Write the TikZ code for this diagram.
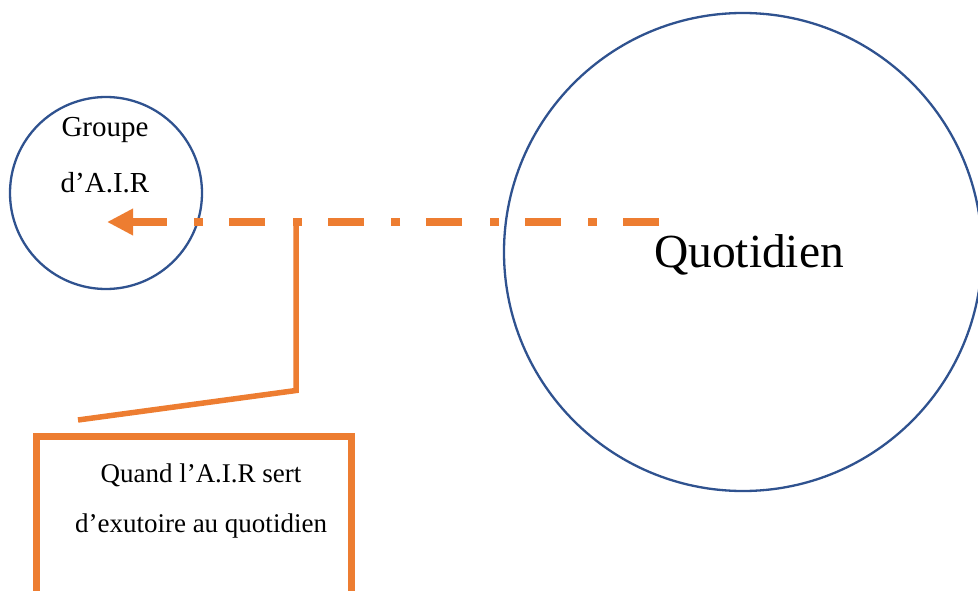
\documentclass[tikz,border=0pt]{standalone}
\usepackage{fontspec}
\setmainfont{Liberation Serif}
\usetikzlibrary{arrows.meta}
\definecolor{ringblue}{HTML}{2F528F}
\definecolor{accentorange}{HTML}{ED7D31}
\tikzset{
  ring/.style={circle, draw=ringblue, line width=2.3pt, inner sep=0pt},
  label29/.style={inner sep=0pt, anchor=base, font=\fontsize{29}{34}\selectfont},
  label27/.style={inner sep=0pt, anchor=base, font=\fontsize{27}{32}\selectfont},
  bigtext/.style={inner sep=0pt, anchor=base, font=\fontsize{47.5}{56}\selectfont},
  flowarrow/.style={draw=accentorange, line width=8pt, dash pattern=on 36pt off 26pt on 9pt off 27.5pt,
     -{Triangle[length=26pt,width=25pt]}},
  calloutline/.style={draw=accentorange, line width=5.5pt, line join=miter},
  notebox/.style={draw=accentorange, line width=7pt, rectangle, inner sep=0pt}
}
\begin{document}
\begin{tikzpicture}[x=1pt,y=-1pt]
  \useasboundingbox (0,0) rectangle (978,591);
  \clip (0,0) rectangle (978,591);
  % circles
  \node[ring, minimum size=192pt] (air) at (106,193) {};
  \node[ring, minimum size=478pt] (quot) at (743,252) {};
  % texts
  \node[label29] (groupe) at (105,137) {Groupe};
  \node[label29] (airtxt) at (105,193) {d’A.I.R};
  \node[bigtext] (quottxt) at (749,267) {Quotidien};
  % note box
  \node[notebox, minimum width=314.5pt, minimum height=158pt, anchor=north west] (note) at (33,432.5) {};
  \node[label27] (note1) at (201,482) {Quand l’A.I.R sert};
  \node[label27] (note2) at (201,532) {d’exutoire au quotidien};
  % arrow
  \coordinate (arrowstart) at (659,222);
  \coordinate (arrowtip) at (107,222);
  \draw[flowarrow] (arrowstart) -- (arrowtip);
  % callout
  \coordinate (calltop) at (296,219);
  \coordinate (callbend) at (296,390.5);
  \coordinate (callend) at (78,420);
  \draw[calloutline] (calltop) -- (callbend) -- (callend);
\end{tikzpicture}
\end{document}
